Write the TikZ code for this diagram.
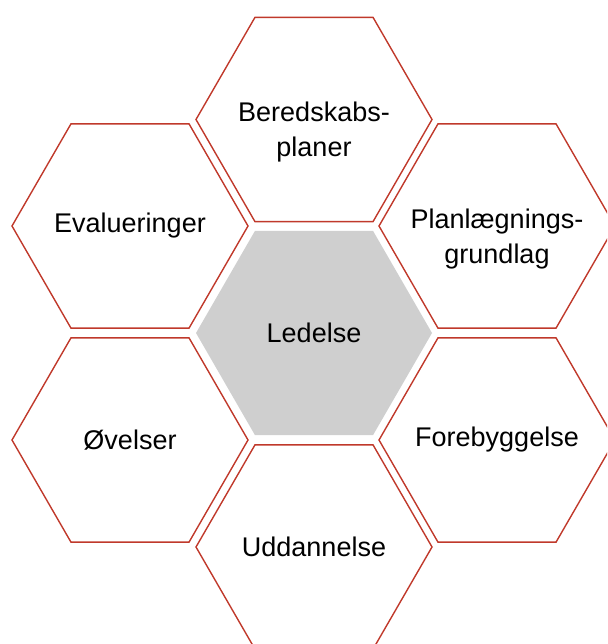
\documentclass[tikz,border=0pt]{standalone}
\usepackage{fontspec}
\setmainfont{Liberation Sans}
\usetikzlibrary{shapes.geometric}
\definecolor{hexred}{RGB}{192,57,43}
\definecolor{hexgray}{RGB}{207,207,207}
\tikzset{
    hexa/.style={regular polygon, regular polygon sides=6, minimum size=236pt,
        inner sep=0pt, outer sep=0pt},
    hextext/.style={align=center, font=\fontsize{27}{35}\selectfont},
    twoline/.style={hextext, yshift=-13pt},
    area/.style={hexa, draw=hexred, line width=1.4pt},
    core/.style={hexa, fill=hexgray}
}
\begin{document}
\begin{tikzpicture}[x=1pt,y=-1pt]
    \useasboundingbox (0,0) rectangle (607,644);
    \clip (0,0) rectangle (607,644);
    %center
    \node[core, label={[hextext]center:Ledelse}] (ledelse) at (314,333) {};
    %ring
    \node[area, label={[twoline]center:{Beredskabs-\\planer}}] (beredskab) at (314,119.5) {};
    \node[area, label={[twoline]center:{Planlægnings-\\grundlag}}] (planlaeg) at (497,226) {};
    \node[area, label={[hextext]center:Forebyggelse}] (forebyg) at (497,440) {};
    \node[area, label={[hextext]center:Uddannelse}] (uddan) at (314,547) {};
    \node[area, label={[hextext]center:Øvelser}] (oevelser) at (130,440) {};
    \node[area, label={[hextext]center:Evalueringer}] (evaluer) at (130,226) {};
\end{tikzpicture}
\end{document}
